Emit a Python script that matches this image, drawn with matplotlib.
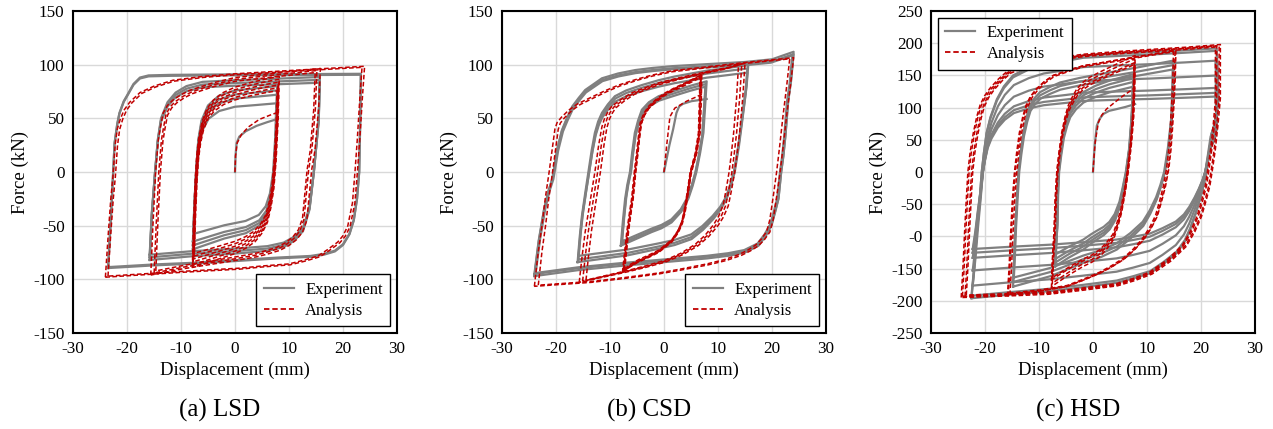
import matplotlib
matplotlib.use("Agg")
import matplotlib.pyplot as plt
from matplotlib.lines import Line2D

plt.rcParams['font.family'] = ['Liberation Serif', 'DejaVu Serif']
plt.rcParams['axes.unicode_minus'] = False

# ---------------- data: (a) LSD ----------------
lsd_exp_a24_up = [(-23.5,-89.5),(-23.0,-45),(-22.6,-4),(-22.3,27),(-21.8,45),(-21.4,55),(-20.6,66),(-19.8,73),(-18.8,82),(-17.6,88),(-16,90),(-12,90.5),(0,91),(12,91.2),(23.3,91.5)]
lsd_exp_a24_dn = [(23.3,91.5),(23.2,50),(23.0,0),(22.6,-25),(22,-45),(21.2,-58),(20,-68),(18.5,-74),(16.5,-77),(14,-79),(8,-80.5),(0,-83),(-8,-85.5),(-15,-87),(-23.5,-89.5)]
lsd_exp_a16_up = [(-15.8,-82),(-15.4,-40),(-14.8,0),(-14.3,30),(-13.7,50),(-12.5,65),(-11,74),(-9,80),(-6,84),(0,85.5),(8,87),(15.7,88.5)]
lsd_exp_a16_dn = [(15.7,88.5),(15.5,50),(14.6,0),(13.8,-35),(12.6,-55),(11,-64),(9,-70),(6,-73.5),(0,-76),(-8,-78.5),(-15.8,-82)]
lsd_exp_a8_up = [(-7.8,-72),(-7.5,-30),(-7.2,0),(-6.8,30),(-6.2,48),(-5,62),(-3,71),(0,76),(4,78),(7.8,80)]
lsd_exp_a8_dn = [(7.8,80),(7.6,40),(7.2,0),(6.6,-25),(5.8,-40),(4.5,-50),(2,-57),(-2,-62),(-7.8,-72)]
lsd_exp_init = [(0,0),(0.1,15),(0.3,27),(0.8,33),(2,38),(4,43),(6,46.5),(7.6,49)]
lsd_ana_a24_up = [(-24,-98),(-23.5,-60),(-23.0,-25),(-22.6,-4),(-22.2,25),(-21.8,40),(-21.2,50),(-20.5,58),(-19.5,65),(-17.6,74),(-15,80),(-11.5,85.5),(-6,89),(0,91.5),(10,94.5),(24,98.5)]
lsd_ana_a24_dn = [(24,98.5),(23.6,70),(23.1,30),(22.7,2),(22.2,-29),(21.3,-51),(20.4,-60),(19.4,-66),(17.5,-73),(15.7,-79),(13,-83),(10.2,-86.5),(5,-88.5),(0.9,-90.5),(-10,-93.5),(-24,-98)]
lsd_ana_a16_up = [(-15.6,-96),(-15.2,-50),(-14.7,0),(-14.2,30),(-13.8,42),(-13.3,55),(-12.5,62),(-11.5,67),(-10,72),(-8.4,76),(-6,80),(-4.1,83),(0,88),(8,92.5),(15.8,96.5)]
lsd_ana_a16_dn = [(15.8,96.5),(15.5,60),(14.8,20),(14.2,2),(13.3,-45),(12.5,-56),(11.4,-63),(10,-68.5),(8.3,-73),(6,-76.5),(4,-79),(0,-82.5),(-5,-86.5),(-10,-90.5),(-15.6,-96)]
lsd_ana_a8_up = [(-7.9,-89),(-7.7,-50),(-7.4,-10),(-7.1,15),(-6.7,32),(-6.1,47),(-5.2,59),(-4,67),(-2.2,74),(0,79),(3,83.5),(6,87),(8.2,89)]
lsd_ana_a8_dn = [(8.2,89),(8.0,50),(7.6,10),(7.2,-15),(6.7,-32),(6.0,-47),(5,-57),(3.7,-65),(2,-71),(0,-76),(-3,-81),(-6,-86),(-7.9,-89)]
lsd_ana_init = [(0,0),(0.1,15),(0.4,27),(1.2,35),(2.5,42),(4.5,49),(6.5,53),(7.6,55)]
# cycle (x-scale, y-scale) per amplitude
lsd_exp_c24 = [(1.0,1.0),(1.0,0.99)]
lsd_exp_c16 = [(1.0,1.0),(1.0,0.97),(1.0,0.94)]
lsd_exp_c8 = [(1.0,1.0),(1.0,0.95),(1.0,0.9),(0.98,0.8)]
lsd_ana_c24 = [(1.0,1.0),(0.98,0.99)]
lsd_ana_c16 = [(1.0,1.0),(0.96,0.98),(0.94,0.96)]
lsd_ana_c8 = [(1.0,1.0),(0.99,0.97),(0.98,0.94),(0.97,0.91),(0.96,0.88),(0.95,0.85)]

# ---------------- data: (b) CSD ----------------
csd_exp_a24_up = [(-24,-97),(-23.2,-65),(-22.2,-35),(-21.4,-18),(-20.7,-7),(-20.2,8),(-19.8,20.5),(-18.9,39),(-18,50),(-17,61),(-15.8,69),(-14.6,76.4),(-13,82),(-11.5,87.3),(-8.5,91.8),(-5.3,95),(-2,97),(1.5,98.6),(8,100.5),(15,102.5),(20,105),(24,112)]
csd_exp_a24_dn = [(24,112),(23.5,85),(23,67.5),(22.5,35),(22.1,15),(21.7,0),(21.2,-25),(20.6,-37),(19.9,-50),(18.8,-60),(17.5,-68.7),(15,-75),(12,-78),(8,-80.5),(0,-84),(-8,-87.5),(-16,-91.5),(-24,-97)]
csd_exp_a16_up = [(-16,-84),(-15.6,-60),(-15.2,-41),(-14.6,-20),(-14,0),(-13.4,20),(-12.8,36.5),(-12.2,47),(-11.5,55),(-10.4,63),(-9.1,70.6),(-7,76),(-4.1,81),(-1,85.5),(2,89),(8,94.5),(15.6,99.5)]
csd_exp_a16_dn = [(15.6,99.5),(15.3,80),(14.6,52),(13.9,25),(13.1,0),(12.4,-13),(11.6,-25),(10.5,-35),(9.1,-44),(7.2,-54),(5.1,-62.5),(2,-68),(-1,-71.5),(-6.6,-77.5),(-16,-84)]
csd_exp_a8_up = [(-8,-68.7),(-7.6,-45),(-7.2,-25),(-6.8,-12),(-6.3,0),(-5.9,18),(-5.4,36.5),(-4.8,48),(-4.1,58),(-2.8,65),(-1,70.6),(1,74),(2.7,76.8),(5,80.5),(7.9,84.5)]
csd_exp_a8_dn = [(7.9,84.5),(7.6,60),(7.3,36.5),(6.7,18),(6,0),(5.3,-13),(4.5,-25),(3.2,-37),(1.4,-47),(-0.5,-52.5),(-2.3,-56),(-5,-62),(-8,-68.7)]
csd_exp_init = [(0,0),(0.4,10),(1.0,25),(1.7,40),(2.3,55),(2.8,61),(3.5,63.5),(5.1,66),(7.9,68)]
csd_ana_a24_up = [(-24,-106.5),(-23.3,-75),(-22.6,-50),(-22.0,-25),(-21.3,-1),(-20.6,25),(-20.2,40),(-19.8,46),(-19,51),(-17.6,57.8),(-16,63.5),(-13.9,68.6),(-11,75.5),(-8.4,81),(-5,86.5),(-2.2,90.3),(1.5,94.3),(8,98),(15,102),(24,106.5)]
csd_ana_a24_dn = [(24,106.5),(23.4,80),(22.7,52),(22.1,25),(21.5,0),(21.0,-18),(20.6,-31.6),(20.2,-45),(19.6,-56),(18.6,-63),(17.5,-68.7),(16,-73.5),(14.4,-77.5),(11.5,-82.5),(8.2,-86.5),(3,-91.5),(-1,-95),(-7,-99),(-13.4,-102.8),(-24,-106.5)]
csd_ana_a16_up = [(-15.7,-102.8),(-15.2,-80),(-14.6,-56),(-13.7,-28),(-12.8,0),(-12.1,25),(-11.5,42),(-11,50),(-10.4,56),(-9.7,61),(-8,67.5),(-6,73.7),(-3.5,78.5),(-1,83),(3,88),(8.2,93.8),(12,97.5),(15,101.5)]
csd_ana_a16_dn = [(15,101.5),(14.6,70),(14,36.5),(13.5,15),(13.1,0),(12.5,-17),(11.9,-31.6),(11,-42),(10,-50),(8.3,-60),(6.3,-68.7),(3.5,-77),(0.2,-84),(-3.5,-89),(-7.2,-93.5),(-15.7,-102.8)]
csd_ana_a8_up = [(-7.7,-93.5),(-7.3,-75),(-6.9,-56),(-6.4,-38),(-6,-25),(-5.5,0),(-5,21),(-4.7,35),(-4.4,46),(-3.8,54),(-2.9,61),(-1.5,67.5),(0.2,73.7),(2,78.5),(3.9,83),(5.5,87),(7,90.7)]
csd_ana_a8_dn = [(7,90.7),(6.9,65),(6.7,36.5),(6.1,18),(5.1,0),(4.5,-20),(3.9,-37.8),(3.4,-48),(2.7,-56),(1.5,-65),(-1,-75),(-3,-80),(-4.8,-84),(-6.5,-89),(-7.7,-93.5)]
csd_ana_init = [(0,0),(0.5,25),(1.1,51.5),(2,59.5),(4.2,66),(6,70),(7.2,73)]
csd_exp_c24 = [(1.0,1.0),(1.0,0.98),(0.99,0.97)]
csd_exp_c16 = [(1.0,1.0),(0.99,0.97),(0.99,0.93)]
csd_exp_c8 = [(1.0,1.0),(0.98,0.97),(0.97,0.94)]
csd_ana_c24 = [(1.0,1.0),(0.97,0.99)]
csd_ana_c16 = [(1.0,1.0),(0.96,0.99),(0.92,0.98)]
csd_ana_c8 = [(1.0,1.0),(0.98,0.99),(0.96,0.98),(0.97,0.97),(0.95,0.985)]

# ---------------- data: (c) HSD ----------------
hsd_exp_a24_up = [(-22.5,-196),(-22,-150),(-21.5,-94.5),(-21,-45),(-20.6,0),(-20.2,30),(-19.7,61),(-19,85),(-17.8,113),(-16.5,133),(-14.8,150),(-12,162),(-9.2,170),(-5,176),(-1.8,181),(5,184),(10.6,186),(17,189),(22.9,192)]
hsd_exp_a24_dn = [(22.9,192),(23.1,150),(23.2,113),(22.7,80),(22,61),(21.5,30),(21,0),(20.5,-20),(19.8,-42.6),(19,-65),(18,-89),(17,-108),(15.5,-126),(13,-143),(10.6,-157),(7.5,-165),(4.4,-172),(-2,-179),(-8,-185),(-15,-190),(-22.5,-196)]
hsd_exp_a16_up = [(-14.8,-178),(-14.6,-140),(-14.4,-94.5),(-14.1,-45),(-13.8,0),(-13.4,30),(-12.9,61),(-12.3,85),(-11.7,103),(-10.8,115),(-9.8,124),(-8,132),(-6.1,139),(-2.5,146),(1.3,152),(8,162),(14.9,173)]
hsd_exp_a16_dn = [(14.9,173),(14.8,130),(14.6,87),(14,40),(13.3,0),(12.6,-22),(11.8,-42.6),(10.6,-65),(9.3,-84),(7,-103),(4.4,-120.5),(1.5,-132),(-1.8,-141),(-5,-152),(-8,-162),(-14.8,-178)]
hsd_exp_a8_up = [(-7,-146.5),(-6.9,-120),(-6.7,-94.5),(-6.6,-45),(-6.4,0),(-6,30),(-5.5,61),(-4.9,82),(-4.3,97.7),(-3.2,112),(-1.8,124),(0.5,134),(3.1,142),(5.3,147),(7.5,152)]
hsd_exp_a8_dn = [(7.5,152),(7.4,120),(7.2,87),(6.8,40),(6.2,0),(5.6,-28),(5,-53),(4.1,-75),(3.1,-89),(2,-98),(0.7,-105),(-0.5,-112),(-1.8,-120.5),(-4.5,-133),(-7,-146.5)]
hsd_exp_init = [(0,0),(0.3,40),(0.7,71.7),(1.2,82),(1.9,90),(3,95),(4.4,97.7),(6,101),(7.8,105.5)]
hsd_ana_a24_up = [(-23.7,-193),(-23.4,-150),(-23.1,-94.5),(-22.8,-45),(-22.5,0),(-22.1,30),(-21.5,61),(-20.9,85),(-20.3,103),(-19.5,117),(-18.5,129),(-17,143),(-15.4,155),(-13,163),(-10.4,170),(-6,176),(-1.8,181),(4,185),(10.6,188.6),(17,192),(22.9,196)]
hsd_ana_a24_dn = [(22.9,196),(22.9,150),(22.9,113),(22.5,75),(22,35),(21.5,5),(21,-22),(20.3,-45),(19.5,-68.6),(18.3,-92),(16.7,-115),(14,-137),(10.6,-157),(7.5,-167),(4.4,-175),(-2,-182),(-8,-188),(-15,-190.5),(-23.7,-193)]
hsd_ana_a16_up = [(-15.7,-193),(-15.4,-150),(-15.1,-94.5),(-14.8,-45),(-14.4,0),(-14,30),(-13.5,61),(-12.9,85),(-12.3,103),(-11.5,117),(-10.4,129),(-9,140),(-7.3,150),(-4.5,158),(-1.8,165),(2.5,171),(7.5,178),(11,183),(15.2,188.6)]
hsd_ana_a16_dn = [(15.2,188.6),(15.1,150),(14.9,113),(14.6,70),(14.3,35),(13.9,5),(13.3,-22),(12.6,-45),(11.8,-68.6),(10.7,-87),(9.3,-105),(7.6,-121),(5.6,-136),(3.5,-147),(1.3,-157),(-1.8,-168),(-4.9,-178),(-10,-185),(-15.7,-190)]
hsd_ana_a8_up = [(-7.7,-180),(-7.5,-140),(-7.2,-94.5),(-7,-45),(-6.7,0),(-6.3,30),(-5.8,61),(-5.2,85),(-4.6,103),(-3.8,117),(-3,129),(-1.9,139),(-0.6,147),(1.2,155),(3.1,162.6),(5.5,172),(7.8,181)]
hsd_ana_a8_dn = [(7.8,181),(7.7,130),(7.5,87),(7.1,45),(6.5,0),(6,-30),(5.3,-63),(4.6,-85),(3.8,-105),(2.6,-119),(1.3,-131),(-0.2,-140),(-1.8,-146.5),(-4.5,-160),(-7.7,-178)]
hsd_ana_init = [(0,0),(0.2,25),(0.4,45.7),(0.7,62),(1,77),(1.6,88),(2.5,97.7),(4,108),(5.6,118.4),(7.8,131)]
hsd_exp_c24 = [(1.0,1.0),(1.0,0.98),(0.99,0.9),(0.99,0.78),(0.99,0.68),(0.99,0.64),(0.99,0.61)]
hsd_exp_c16 = [(1.0,1.0),(1.0,0.96),(0.99,0.92)]
hsd_exp_c8 = [(1.0,1.0),(1.0,0.96),(0.99,0.92),(0.98,0.87)]
hsd_ana_c24 = [(1.0,1.0),(1.02,1.0),(0.99,0.99),(1.03,1.01)]
hsd_ana_c16 = [(1.0,1.0),(0.98,0.99),(1.01,1.0)]
hsd_ana_c8 = [(1.0,1.0),(0.98,0.97),(1.0,0.94),(0.97,0.92)]

hsd_ytick_labels = ['-250', '-200', '-150', '-0', '-50', '0', '50', '100', '150', '200', '250']
panel_titles = ['(a) LSD', '(b) CSD', '(c) HSD']
legend_labels = ['Experiment', 'Analysis']

GRAY = '#808080'
RED = '#C00000'

fig = plt.figure(figsize=(12.73, 4.29), dpi=100)
W, H = 1273.0, 429.0
lefts = [73, 502, 931]
axw, top, bot = 324, 11, 333


def draw_loop(ax, up, dn, cycles, color, dashed):
    for xs, ys in cycles:
        pts = up + dn[1:]
        x = [p[0] * xs for p in pts]
        y = [p[1] * ys for p in pts]
        if dashed:
            ax.plot(x, y, color=color, lw=1.1, ls=(0, (3, 1.6)), zorder=3)
        else:
            ax.plot(x, y, color=color, lw=1.6, zorder=2)


def draw_init(ax, pts, color, dashed):
    x = [p[0] for p in pts]
    y = [p[1] for p in pts]
    if dashed:
        ax.plot(x, y, color=color, lw=1.1, ls=(0, (3, 1.6)), zorder=3)
    else:
        ax.plot(x, y, color=color, lw=1.6, zorder=2)


panels = [
    dict(exp=[(lsd_exp_a24_up, lsd_exp_a24_dn, lsd_exp_c24), (lsd_exp_a16_up, lsd_exp_a16_dn, lsd_exp_c16), (lsd_exp_a8_up, lsd_exp_a8_dn, lsd_exp_c8)],
         ana=[(lsd_ana_a24_up, lsd_ana_a24_dn, lsd_ana_c24), (lsd_ana_a16_up, lsd_ana_a16_dn, lsd_ana_c16), (lsd_ana_a8_up, lsd_ana_a8_dn, lsd_ana_c8)],
         ei=lsd_exp_init, ai=lsd_ana_init, ylim=(-150, 150), ystep=50, yl=None, leg='lower right'),
    dict(exp=[(csd_exp_a24_up, csd_exp_a24_dn, csd_exp_c24), (csd_exp_a16_up, csd_exp_a16_dn, csd_exp_c16), (csd_exp_a8_up, csd_exp_a8_dn, csd_exp_c8)],
         ana=[(csd_ana_a24_up, csd_ana_a24_dn, csd_ana_c24), (csd_ana_a16_up, csd_ana_a16_dn, csd_ana_c16), (csd_ana_a8_up, csd_ana_a8_dn, csd_ana_c8)],
         ei=csd_exp_init, ai=csd_ana_init, ylim=(-150, 150), ystep=50, yl=None, leg='lower right'),
    dict(exp=[(hsd_exp_a24_up, hsd_exp_a24_dn, hsd_exp_c24), (hsd_exp_a16_up, hsd_exp_a16_dn, hsd_exp_c16), (hsd_exp_a8_up, hsd_exp_a8_dn, hsd_exp_c8)],
         ana=[(hsd_ana_a24_up, hsd_ana_a24_dn, hsd_ana_c24), (hsd_ana_a16_up, hsd_ana_a16_dn, hsd_ana_c16), (hsd_ana_a8_up, hsd_ana_a8_dn, hsd_ana_c8)],
         ei=hsd_exp_init, ai=hsd_ana_init, ylim=(-250, 250), ystep=50, yl=hsd_ytick_labels, leg='upper left'),
]

for i, p in enumerate(panels):
    ax = fig.add_axes([lefts[i] / W, 1 - bot / H, axw / W, (bot - top) / H])
    for up, dn, cyc in p['exp']:
        draw_loop(ax, up, dn, cyc, GRAY, False)
    draw_init(ax, p['ei'], GRAY, False)
    for up, dn, cyc in p['ana']:
        draw_loop(ax, up, dn, cyc, RED, True)
    draw_init(ax, p['ai'], RED, True)
    ax.set_xlim(-30, 30)
    ax.set_ylim(*p['ylim'])
    ax.set_xticks(range(-30, 31, 10))
    yt = list(range(p['ylim'][0], p['ylim'][1] + 1, p['ystep']))
    ax.set_yticks(yt)
    if p['yl'] is not None:
        ax.set_yticklabels(p['yl'])
    ax.grid(True, color='#d9d9d9', lw=1.0, zorder=0)
    ax.set_axisbelow(True)
    ax.tick_params(length=0, labelsize=12.3, pad=6)
    for s in ax.spines.values():
        s.set_linewidth(1.5)
        s.set_color('black')
    ax.set_xlabel('Displacement (mm)', fontsize=13.5, labelpad=3)
    ax.set_ylabel('Force (kN)', fontsize=13.5, labelpad=3)
    handles = [Line2D([], [], color=GRAY, lw=1.6),
               Line2D([], [], color=RED, lw=1.3, ls=(0, (3, 1.6)))]
    leg = ax.legend(handles, legend_labels, loc=p['leg'], fontsize=12, frameon=True,
                    fancybox=False, framealpha=1, edgecolor='black', borderpad=0.45,
                    handlelength=1.8, handletextpad=0.7, labelspacing=0.3,
                    borderaxespad=0.4)
    leg.get_frame().set_linewidth(1.0)
    fig.text((lefts[i] + axw / 2 - 15) / W, 1 - 410 / H, panel_titles[i],
             ha='center', va='center', fontsize=18)

fig.savefig('out.png', dpi=100)
